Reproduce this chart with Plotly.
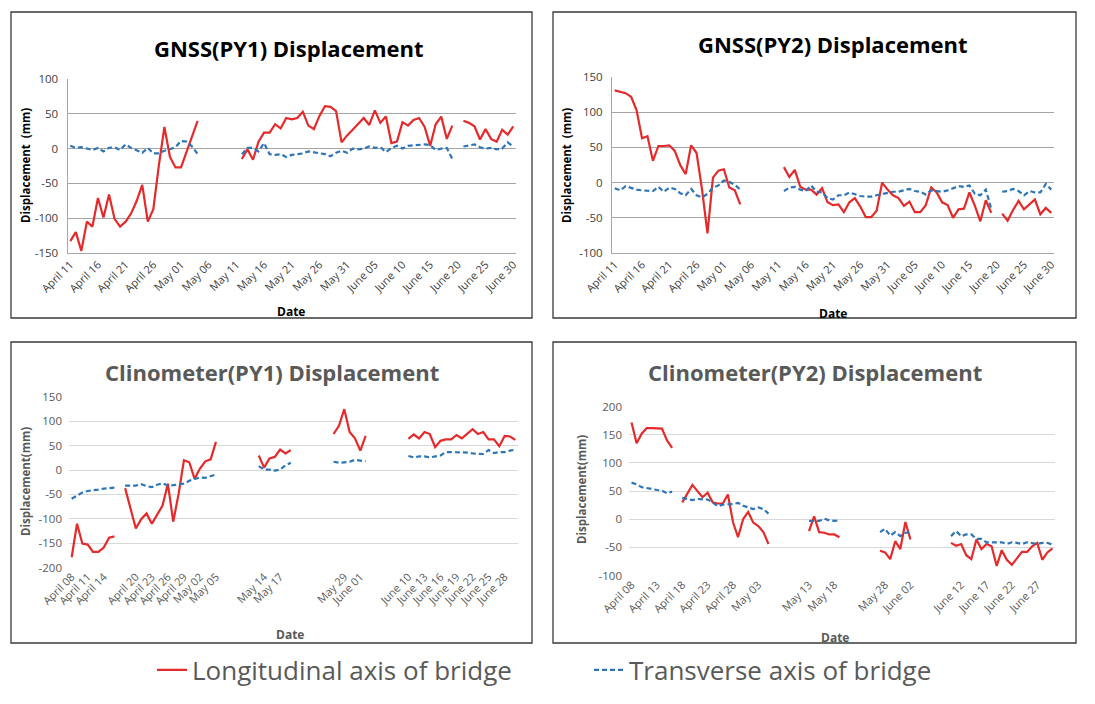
import plotly.graph_objects as go
import pandas as pd

N = None

# ---------------- categories ----------------
gnss_dates = [d.strftime("%B %d") for d in pd.date_range("2019-04-11", "2019-06-30")]
clino_dates = [d.strftime("%B %d") for d in pd.date_range("2019-04-08", "2019-06-30")]

gnss_ticks = ["April 11", "April 16", "April 21", "April 26", "May 01", "May 06", "May 11",
              "May 16", "May 21", "May 26", "May 31", "June 05", "June 10", "June 15",
              "June 20", "June 25", "June 30"]
clino_py1_ticks = ["April 08", "April 11", "April 14", "April 20", "April 23", "April 26",
                   "April 29", "May 02", "May 05", "May 14", "May 17", "May 29", "June 01",
                   "June 10", "June 13", "June 16", "June 19", "June 22", "June 25", "June 28"]
clino_py2_ticks = ["April 08", "April 13", "April 18", "April 23", "April 28", "May 03",
                   "May 13", "May 18", "May 28", "June 02", "June 12", "June 17", "June 22",
                   "June 27"]

# ---------------- series values (mm) ----------------
gnss_py1_long = [-133, -120, -147, -105, -112, -71, -99, -66, -101, -112, -105, -93, -75, -52,
                 -105, -87, -24, 31, -12, -27, -27, -4, 17, 40,
                 N, N, N, N, N, N, N,
                 -15, -1, -16, 10, 23, 23, 35, 29, 44, 42, 44, 53, 33, 28, 47, 61, 60, 54, 9,
                 19, 27, 35, 44, 34, 55, 37, 46, 8, 10, 38, 33, 41, 44, 31, 4, 35, 46, 14, 33,
                 N,
                 40, 37, 32, 13, 28, 14, 10, 27, 20, 32]
gnss_py1_trans = [4, 1, 2, 0, -2, 1, -4, 1, 2, -2, 6, 1, -2, -6, 1, -7, -7, -3, -1, 2, 11, 10, 3, -8,
                  N, N, N, N, N, N, N,
                  -8, 1, 1, -4, 8, -8, -9, -8, -12, -9, -8, -7, -4, -5, -7, -8, -11, -6, -3, -6,
                  0, -1, 0, 3, 1, 2, -5, 1, 4, 0, 4, 5, 6, 6, 5, -2, 0, 1, -15,
                  N,
                  3, 4, 6, 2, 0, 1, -1, 0, 9, 3]

gnss_py2_long = [131, 129, 127, 122, 103, 63, 66, 31, 52, 52, 53, 45, 25, 12, 53, 42, -10, -72,
                 7, 17, 19, -7, -11, -31,
                 N, N, N, N, N, N, N,
                 22, 8, 18, -6, -10, -10, -17, -8, -28, -32, -31, -42, -28, -22, -34, -49, -49,
                 -40, 0, -10, -18, -22, -33, -27, -42, -42, -32, -7, -14, -28, -32, -50, -38,
                 -37, -14, -33, -55, -25, -43,
                 N,
                 -44, -54, -39, -26, -38, -31, -24, -45, -36, -43]
gnss_py2_trans = [-8, -11, -5, -8, -10, -11, -11, -12, -6, -13, -7, -9, -15, -18, -9, -18, -21,
                  -16, -7, -4, 3, 1, -3, -10,
                  N, N, N, N, N, N, N,
                  -12, -7, -6, -10, -12, -4, -13, -14, -22, -24, -18, -18, -14, -17, -19, -20,
                  -20, -18, -16, -15, -13, -13, -11, -9, -12, -13, -17, -11, -12, -13, -11, -8,
                  -5, -6, -4, -16, -18, -10, -37,
                  N,
                  -13, -12, -9, -12, -18, -12, -14, -14, -2, -10]

clino_py1_long = [-179, -110, -151, -153, -168, -168, -159, -139, -136,
                  N,
                  -37, -77, -120, -101, -89, -110, -92, -73, -28, -106, -49, 20, 16, -18, 3, 18,
                  22, 58,
                  N, N, N, N, N, N, N,
                  30, 5, 24, 27, 42, 34, 41,
                  N, N, N, N, N, N, N,
                  74, 91, 125, 78, 65, 40, 70,
                  N, N, N, N, N, N, N,
                  64, 73, 65, 78, 74, 47, 60, 63, 63, 72, 65, 75, 84, 74, 78, 63, 63, 49, 70, 69, 62]
clino_py1_trans = [-59, -53, -46, -43, -42, -40, -38, -37, -36,
                   N,
                   -32, -32, -32, -29, -33, -35, -30, -27, -32, -31, -30, -28, -22, -18, -15, -16,
                   -13, -9,
                   N, N, N, N, N, N, N,
                   8, 1, 1, -1, 1, 10, 15,
                   N, N, N, N, N, N, N,
                   17, 15, 16, 17, 21, 19, 18,
                   N, N, N, N, N, N, N,
                   29, 26, 28, 28, 26, 28, 30, 37, 37, 36, 36, 36, 34, 33, 33, 41, 35, 37, 37, 40, 42]

clino_py2_long = [172, 135, 152, 162, 162, 161, 161, 140, 127,
                  N,
                  30, 45, 61, 50, 39, 47, 30, 28, 28, 44, -5, -32, 0, 13, -6, -12, -23, -44,
                  N, N, N, N, N, N, N,
                  -21, 5, -23, -24, -27, -27, -32,
                  N, N, N, N, N, N, N,
                  -56, -59, -71, -39, -53, -5, -36,
                  N, N, N, N, N, N, N,
                  -42, -47, -44, -64, -71, -36, -53, -44, -48, -83, -55, -72, -81, -70, -58, -58,
                  -48, -42, -72, -59, -52]
clino_py2_trans = [65, 62, 57, 55, 53, 52, 51, 46, 49,
                   N,
                   38, 36, 34, 36, 36, 35, 30, 23, 26, 26, 27, 29, 24, 21, 18, 21, 18, 10,
                   N, N, N, N, N, N, N,
                   -3, -3, -3, 1, -2, -3, -2,
                   N, N, N, N, N, N, N,
                   -23, -17, -29, -23, -30, -24, -23,
                   N, N, N, N, N, N, N,
                   -30, -21, -30, -27, -27, -35, -35, -41, -41, -41, -41, -44, -41, -42, -44, -41,
                   -42, -44, -42, -42, -45]

series_names = ["Longitudinal axis of bridge", "Transverse axis of bridge"]

# ---------------- styling / layout ----------------
PAGE_W, PAGE_H = 1095, 704
BODY = 8                      # default page body margin
W, H = PAGE_W - 2 * BODY, PAGE_H - 2 * BODY
RED = "#E42A2A"
BLUE = "#2E75B6"
FONT = "Open Sans"


def fx(px):
    return (px - BODY) / W


def fy(py):
    return 1 - (py - BODY) / H


panels = [
    dict(title="GNSS(PY1) Displacement", ytitle="Displacement  (mm)", dates=gnss_dates,
         ticks=gnss_ticks, long=gnss_py1_long, trans=gnss_py1_trans, yr=(-150, 100),
         plot=(67.5, 516, 79, 253), box=(11, 532, 12, 318), tpos=(289, 48), ypos=(26, 166),
         dpos=(291, 311), dark=True),
    dict(title="GNSS(PY2) Displacement", ytitle="Displacement  (mm)", dates=gnss_dates,
         ticks=gnss_ticks, long=gnss_py2_long, trans=gnss_py2_trans, yr=(-100, 150),
         plot=(612, 1054, 77, 253), box=(553, 1076, 12, 318), tpos=(833, 44), ypos=(567, 166),
         dpos=(833, 313), dark=True),
    dict(title="Clinometer(PY1) Displacement", ytitle="Displacement(mm)", dates=clino_dates,
         ticks=clino_py1_ticks, long=clino_py1_long, trans=clino_py1_trans, yr=(-200, 150),
         plot=(69, 518, 397, 567.5), box=(11, 532, 342, 643), tpos=(272, 372), ypos=(25, 482),
         dpos=(290, 634), dark=False),
    dict(title="Clinometer(PY2) Displacement", ytitle="Displacement(mm)", dates=clino_dates,
         ticks=clino_py2_ticks, long=clino_py2_long, trans=clino_py2_trans, yr=(-100, 200),
         plot=(629, 1055, 406.7, 575.5), box=(553, 1076, 342, 643), tpos=(815, 372),
         ypos=(581, 490), dpos=(835, 637), dark=False),
]

fig = go.Figure()
layout = dict(width=W, height=H, autosize=False, margin=dict(l=0, r=0, t=0, b=0, pad=0),
              paper_bgcolor="white", plot_bgcolor="white",
              font=dict(family=FONT), shapes=[], annotations=[])

for k, p in enumerate(panels, start=1):
    xa = "x" if k == 1 else f"x{k}"
    ya = "y" if k == 1 else f"y{k}"
    fig.add_trace(go.Scatter(x=p["dates"], y=p["long"], mode="lines", name=series_names[0],
                             line=dict(color=RED, width=2.2), connectgaps=False,
                             showlegend=(k == 1), xaxis=xa, yaxis=ya))
    fig.add_trace(go.Scatter(x=p["dates"], y=p["trans"], mode="lines", name=series_names[1],
                             line=dict(color=BLUE, width=2.2, dash="5px,3px"), connectgaps=False,
                             showlegend=(k == 1), xaxis=xa, yaxis=ya))

    x0, x1, y0, y1 = p["plot"]
    tick_col = "#404040" if p["dark"] else "#595959"
    grid_col = "#A6A6A6" if p["dark"] else "#D9D9D9"
    title_col = "#000000" if p["dark"] else "#595959"
    lo, hi = p["yr"]
    yt = list(range(lo, hi + 1, 50))
    n = len(p["dates"])

    layout["xaxis" if k == 1 else f"xaxis{k}"] = dict(
        domain=[fx(x0), fx(x1)], anchor=ya, type="category", automargin=False,
        categoryorder="array", categoryarray=p["dates"], range=[-0.5, n - 0.5],
        tickmode="array", tickvals=p["ticks"], ticktext=p["ticks"], tickangle=-45,
        tickfont=dict(size=11, color=tick_col, family=FONT), showgrid=False,
        showline=p["dark"], linecolor=grid_col, linewidth=1, ticks="", zeroline=False)
    layout["yaxis" if k == 1 else f"yaxis{k}"] = dict(
        domain=[fy(y1), fy(y0)], anchor=xa, range=[lo, hi], automargin=False,
        tickmode="array", tickvals=yt, ticktext=[str(v) for v in yt],
        tickfont=dict(size=11.5, color=tick_col, family=FONT), showgrid=True,
        gridcolor=grid_col, gridwidth=1, zeroline=False,
        showline=p["dark"], linecolor=grid_col, linewidth=1, ticks="", ticklabelstandoff=6)

    bx0, bx1, by0, by1 = p["box"]
    layout["shapes"].append(dict(type="rect", xref="paper", yref="paper",
                                 x0=fx(bx0), x1=fx(bx1), y0=fy(by1), y1=fy(by0),
                                 line=dict(color="#3A3A3A", width=1.3), fillcolor="rgba(0,0,0,0)",
                                 layer="below"))
    layout["annotations"].append(dict(text=f"<b>{p['title']}</b>", xref="paper", yref="paper",
                                      x=fx(p["tpos"][0]), y=fy(p["tpos"][1]), showarrow=False,
                                      xanchor="center", yanchor="middle",
                                      font=dict(size=22, color=title_col, family=FONT)))
    layout["annotations"].append(dict(text=f"<b>{p['ytitle']}</b>", xref="paper", yref="paper",
                                      x=fx(p["ypos"][0]), y=fy(p["ypos"][1]), showarrow=False,
                                      textangle=-90, xanchor="center", yanchor="middle",
                                      font=dict(size=11.5, color=title_col, family=FONT)))
    layout["annotations"].append(dict(text="<b>Date</b>", xref="paper", yref="paper",
                                      x=fx(p["dpos"][0]), y=fy(p["dpos"][1]), showarrow=False,
                                      xanchor="center", yanchor="middle",
                                      font=dict(size=12, color=title_col, family=FONT)))

layout["legend"] = dict(orientation="h", x=fx(152), xanchor="left", y=fy(670), yanchor="middle",
                        font=dict(size=26, color="#595959", family=FONT),
                        entrywidth=392, entrywidthmode="pixels", bgcolor="rgba(0,0,0,0)",
                        itemwidth=30, tracegroupgap=0)

fig.update_layout(**layout)
fig.write_html("out.html")
